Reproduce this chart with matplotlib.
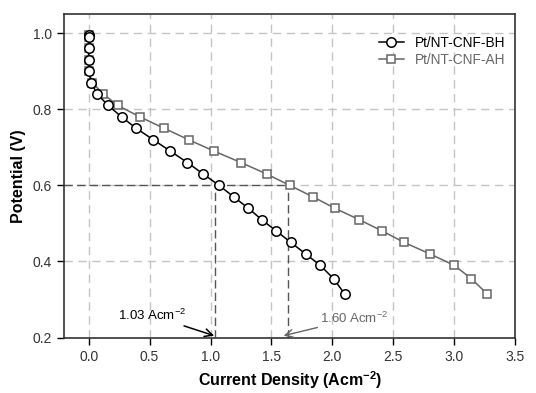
import matplotlib
matplotlib.use("Agg")
import matplotlib.pyplot as plt

plt.rcParams['font.family'] = ['Liberation Sans', 'DejaVu Sans']
plt.rcParams['mathtext.default'] = 'regular'

# Pt/NT-CNF-BH (circles)
bh_x = [0.0, 0.0, 0.0, 0.0, 0.0, 0.02, 0.07, 0.16, 0.27, 0.39, 0.53, 0.67, 0.81,
        0.94, 1.07, 1.19, 1.31, 1.42, 1.54, 1.66, 1.78, 1.90, 2.01, 2.10]
bh_y = [0.995, 0.99, 0.96, 0.93, 0.90, 0.87, 0.84, 0.81, 0.78, 0.75, 0.72, 0.69,
        0.66, 0.63, 0.60, 0.57, 0.54, 0.51, 0.48, 0.45, 0.42, 0.39, 0.355, 0.315]

# Pt/NT-CNF-AH (squares)
ah_x = [0.0, 0.0, 0.0, 0.0, 0.0, 0.03, 0.12, 0.24, 0.42, 0.62, 0.82, 1.03, 1.25,
        1.46, 1.65, 1.84, 2.02, 2.22, 2.41, 2.59, 2.80, 3.00, 3.14, 3.27]
ah_y = [0.995, 0.99, 0.96, 0.93, 0.90, 0.87, 0.84, 0.81, 0.78, 0.75, 0.72, 0.69,
        0.66, 0.63, 0.60, 0.57, 0.54, 0.51, 0.48, 0.45, 0.42, 0.39, 0.355, 0.315]

xticks = [0.0, 0.5, 1.0, 1.5, 2.0, 2.5, 3.0, 3.5]
yticks = [0.2, 0.4, 0.6, 0.8, 1.0]

fig = plt.figure(figsize=(5.36, 3.93), dpi=100)
ax = fig.add_axes([0.120, 0.141, 0.841, 0.823])

ax.grid(True, color='#c4c4c4', linestyle=(0, (6, 4)), linewidth=1.0)
ax.set_axisbelow(True)

# guide lines at 0.6 V
ax.plot([-0.2, 1.64], [0.6, 0.6], color='#555555', linestyle=(0, (6, 3)), linewidth=1.0, zorder=1)
ax.plot([1.04, 1.04], [0.2, 0.6], color='#555555', linestyle=(0, (6, 3)), linewidth=1.0, zorder=1)
ax.plot([1.64, 1.64], [0.2, 0.6], color='#555555', linestyle=(0, (6, 3)), linewidth=1.0, zorder=1)

ax.plot(bh_x, bh_y, color='black', linewidth=1.1, marker='o', markersize=6.8,
        markerfacecolor='white', markeredgecolor='black', markeredgewidth=1.1,
        label='Pt/NT-CNF-BH', zorder=3)
ax.plot(ah_x, ah_y, color='#666666', linewidth=1.1, marker='s', markersize=6.0,
        markerfacecolor='white', markeredgecolor='#666666', markeredgewidth=1.1,
        label='Pt/NT-CNF-AH', zorder=2)

ax.annotate('1.03 Acm$^{-2}$', xy=(1.03, 0.205), xytext=(0.80, 0.258),
            ha='right', va='center', fontsize=9.5, color='black',
            arrowprops=dict(arrowstyle='->', color='black', lw=1.1,
                            mutation_scale=14, shrinkA=0, shrinkB=0))
ax.annotate('1.60 Acm$^{-2}$', xy=(1.60, 0.205), xytext=(1.90, 0.250),
            ha='left', va='center', fontsize=9.5, color='#666666',
            arrowprops=dict(arrowstyle='->', color='#666666', lw=1.0,
                            mutation_scale=14, shrinkA=0, shrinkB=0))

ax.set_xlim(-0.2, 3.5)
ax.set_ylim(0.2, 1.05)
ax.set_xticks(xticks)
ax.set_yticks(yticks)
ax.set_xticklabels([f'{t:.1f}' for t in xticks], color='#333333')
ax.set_yticklabels([f'{t:.1f}' for t in yticks], color='#333333')
ax.tick_params(axis='both', direction='out', length=5, width=1.0, labelsize=10, pad=4)

for side in ['top', 'right', 'left', 'bottom']:
    ax.spines[side].set_color('#333333')
    ax.spines[side].set_linewidth(1.2)

ax.set_xlabel('Current Density (Acm$^{-2}$)', fontsize=11.5, fontweight='bold', labelpad=4)
ax.set_ylabel('Potential (V)', fontsize=11.5, fontweight='bold', labelpad=5)

leg = ax.legend(loc='upper right', bbox_to_anchor=(1.005, 0.97), frameon=False,
                fontsize=9.8, handlelength=1.8, labelspacing=0.2, handletextpad=0.8)
leg.get_texts()[1].set_color('#666666')

fig.savefig('out.png', dpi=100)
